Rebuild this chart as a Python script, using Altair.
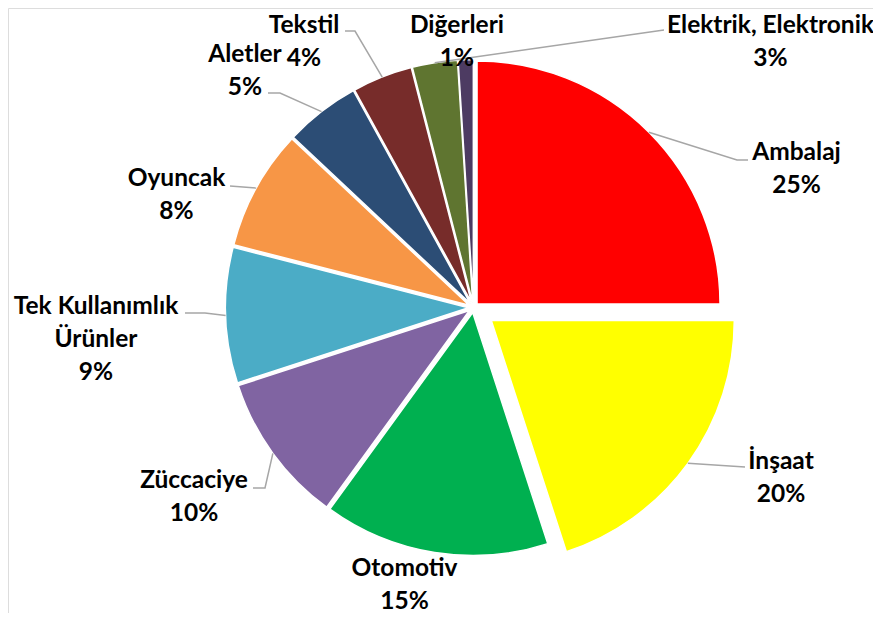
import math
import altair as alt
import pandas as pd

# ---------------- data ----------------
categories = ["Ambalaj", "İnşaat", "Otomotiv", "Züccaciye", "Tek Kullanımlık Ürünler",
              "Oyuncak", "Aletler", "Tekstil", "Elektrik, Elektronik", "Diğerleri"]
values = [25, 20, 15, 10, 9, 8, 5, 4, 3, 1]
label_names = ["Ambalaj", "İnşaat", "Otomotiv", "Züccaciye", "Tek Kullanımlık\nÜrünler",
               "Oyuncak", "Aletler", "Tekstil", "Elektrik, Elektronik", "Diğerleri"]

# ---------------- style / layout ----------------
colors = ["#FF0000", "#FFFF00", "#00B050", "#8064A2", "#4BACC6",
          "#F79646", "#2C4D75", "#772C2A", "#5F7530", "#4D3B62"]
W, H = 865, 605
OFF = 8                      # page margin
CX, CY = 473.5 - OFF, 307.6 - OFF
R = 243
EXPLODE_DEFAULT = 5
EXPLODE = {"İnşaat": 22}
FONT = "Lato"
FS = 24.5
LH = 33

# label block centres (page px)
label_pos = {
    "Ambalaj": (796.5, 168), "İnşaat": (781, 477), "Otomotiv": (404.5, 584),
    "Züccaciye": (194, 496), "Tek Kullanımlık Ürünler": (96, 338),
    "Oyuncak": (176.5, 194), "Aletler": (245, 70), "Tekstil": (304, 40.5),
    "Elektrik, Elektronik": (770.5, 40.5), "Diğerleri": (457, 40.5),
}
# leader line elbow / attach points (page px)
leader_pts = {
    "Elektrik, Elektronik": [(664, 30)],
    "Ambalaj": [(737, 160), (748, 160)],
    "İnşaat": [(745, 467)],
    "Züccaciye": [(265, 488), (253, 488)],
    "Tek Kullanımlık Ürünler": [(205, 313), (185, 313)],
    "Oyuncak": [(230, 186)],
    "Aletler": [(280, 93), (268, 93)],
    "Tekstil": [(355, 31), (345, 31)],
}

total = sum(values)
df = pd.DataFrame({"cat": categories, "value": values, "idx": list(range(len(values)))})

# geometry derived from the values (for leader line start points)
cum = 0
edge = {}
for c, v in zip(categories, values):
    mid = (cum + v / 2) / total * 2 * math.pi
    e = EXPLODE.get(c, EXPLODE_DEFAULT)
    vx = CX + e * math.sin(mid)
    vy = CY - e * math.cos(mid)
    edge[c] = (vx + R * math.sin(mid), vy - R * math.cos(mid))
    cum += v

line_rows = []
for c, pts in leader_pts.items():
    sx, sy = edge[c]
    line_rows.append({"cat": c, "o": 0, "x": sx, "y": sy})
    for i, (px, py) in enumerate(pts):
        line_rows.append({"cat": c, "o": i + 1, "x": px - OFF, "y": py - OFF})
lines_df = pd.DataFrame(line_rows)

lab_rows = []
for c, v, n in zip(categories, values, label_names):
    x, y = label_pos[c]
    text = f"{n}\n{v}%"
    nlines = text.count("\n") + 1
    lab_rows.append({"cat": c, "text": text, "x": x - OFF,
                     "y": y - OFF - (nlines - 1) * LH / 2 + 1.5})
lab_df = pd.DataFrame(lab_rows)

explode_expr = " : ".join([f"datum.cat === '{k}' ? {v}" for k, v in EXPLODE.items()]) + f" : {EXPLODE_DEFAULT}"

arcs = alt.Chart(df).transform_window(
    end="sum(value)", sort=[alt.SortField("idx")], frame=[None, 0]
).transform_calculate(
    start="datum.end - datum.value",
    mid=f"(datum.end - datum.value / 2) / {total} * 2 * PI",
    ex=explode_expr,
).transform_calculate(
    px=f"{CX} + datum.ex * sin(datum.mid)",
    py=f"{CY} - datum.ex * cos(datum.mid)",
).mark_arc(radius=R, stroke="white", strokeWidth=1.5).encode(
    theta=alt.Theta("start:Q", stack=False, scale=alt.Scale(domain=[0, total], range=[0, 2 * math.pi])),
    theta2="end:Q",
    x=alt.X("px:Q", scale=None, axis=None),
    y=alt.Y("py:Q", scale=None, axis=None),
    color=alt.Color("cat:N", scale=alt.Scale(domain=categories, range=colors), legend=None),
)

leaders = alt.Chart(lines_df).mark_line(color="#A6A6A6", strokeWidth=1.5).encode(
    x=alt.X("x:Q", scale=None, axis=None),
    y=alt.Y("y:Q", scale=None, axis=None),
    detail="cat:N",
    order="o:Q",
)

labels = alt.Chart(lab_df).mark_text(
    font=FONT, fontSize=FS, fontWeight="bold", color="black",
    align="center", baseline="middle", lineBreak="\n", lineHeight=LH,
).encode(
    x=alt.X("x:Q", scale=None, axis=None),
    y=alt.Y("y:Q", scale=None, axis=None),
    text="text:N",
)

chart = alt.layer(arcs, leaders, labels).properties(
    width=W, height=H, padding=0, autosize=alt.AutoSizeParams(type="none"),
).configure_view(
    strokeOpacity=0, strokeWidth=0
).configure(background="white")

chart.save("out.html", embed_options={"renderer": "svg", "actions": False})
